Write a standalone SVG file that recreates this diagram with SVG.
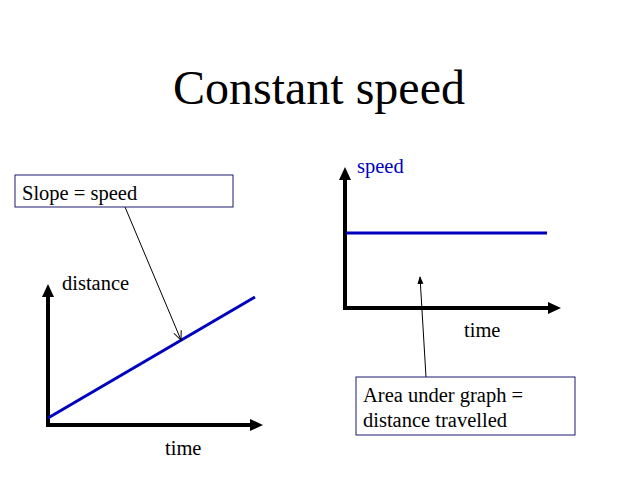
<svg xmlns="http://www.w3.org/2000/svg" width="638" height="479" viewBox="0 0 638 479">
<style>
text{font-family:"Liberation Serif",serif;fill:#000}
.lbl{font-size:20.5px}
.axis{stroke:#000;stroke-width:4;fill:none}
.plot{stroke:#0000c0;stroke-width:3;fill:none}
.box{fill:#fff;stroke:#1a1a6e;stroke-width:1}
.ptr{stroke:#000;stroke-width:1;fill:none}
</style>
<defs>
<marker id="ah" markerWidth="13" markerHeight="12" refX="2" refY="6" orient="auto" markerUnits="userSpaceOnUse"><path d="M0,0 L13,6 L0,12 Z" fill="#000"/></marker>
<marker id="oh" markerWidth="10" markerHeight="10" refX="9" refY="5" orient="auto" markerUnits="userSpaceOnUse"><path d="M0,1 L9,5 L0,9" fill="none" stroke="#000" stroke-width="1"/></marker>
<marker id="sh" markerWidth="8" markerHeight="8" refX="7" refY="4" orient="auto" markerUnits="userSpaceOnUse"><path d="M0,1 L8,4 L0,7 Z" fill="#000"/></marker>
</defs>
<rect width="638" height="479" fill="#fff"/>
<text x="319" y="104" text-anchor="middle" font-size="48">Constant speed</text>
<g id="graph-left">
<path class="axis" d="M48,425 L48,295" marker-end="url(#ah)"/>
<path class="axis" d="M46,425 L252,425" marker-end="url(#ah)"/>
<line class="plot" x1="48" y1="418" x2="255" y2="297"/>
<text class="lbl" x="62" y="290">distance</text>
<text class="lbl" x="165" y="455">time</text>
</g>
<g id="graph-right">
<path class="axis" d="M345,308 L345,178" marker-end="url(#ah)"/>
<path class="axis" d="M343,308 L550,308" marker-end="url(#ah)"/>
<line class="plot" x1="346" y1="233" x2="547" y2="233"/>
<text class="lbl" x="357" y="173" style="fill:#0000c0">speed</text>
<text class="lbl" x="464" y="337">time</text>
</g>
<g id="connectors">
<line class="ptr" x1="125" y1="207" x2="181" y2="340" marker-end="url(#oh)"/>
<line class="ptr" x1="426" y1="377" x2="420" y2="277" marker-end="url(#sh)"/>
</g>
<g id="note-slope">
<rect class="box" x="15" y="175" width="218" height="32"/>
<text class="lbl" x="22" y="200">Slope = speed</text>
</g>
<g id="note-area">
<rect class="box" x="356" y="377" width="219" height="58"/>
<text class="lbl" x="363" y="402">Area under graph =</text>
<text class="lbl" x="363" y="427">distance travelled</text>
</g>
</svg>
